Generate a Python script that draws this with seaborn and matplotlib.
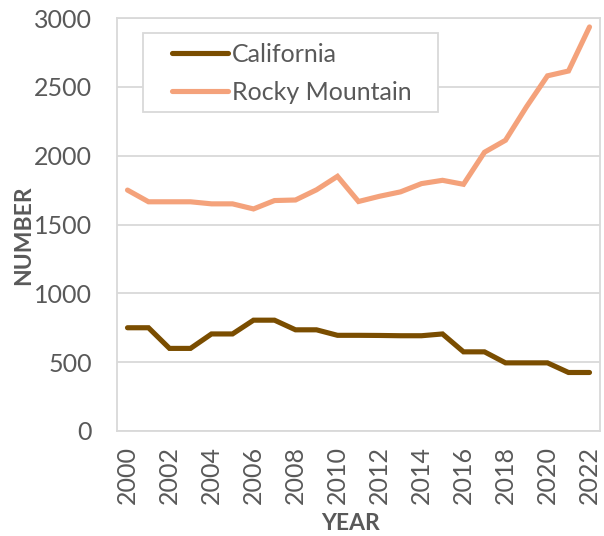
import matplotlib
matplotlib.use("Agg")
import matplotlib.pyplot as plt
from matplotlib.patches import Rectangle
import seaborn as sns
import pandas as pd

years = list(range(2000, 2023))
california = [750, 750, 600, 600, 705, 705, 805, 805, 735, 735, 695, 695,
              694, 692, 692, 705, 575, 575, 495, 495, 495, 425, 425]
rocky_mountain = [1750, 1665, 1665, 1665, 1650, 1650, 1613, 1674, 1678, 1752,
                  1850, 1667, 1705, 1737, 1797, 1821, 1792, 2025, 2112, 2355,
                  2580, 2615, 2935]
series_names = ["California", "Rocky Mountain"]
series_colors = ["#7A4D00", "#F4A27B"]
y_ticks = [0, 500, 1000, 1500, 2000, 2500, 3000]
x_ticks = list(range(2000, 2023, 2))

df = pd.DataFrame({
    "YEAR": years * 2,
    "NUMBER": california + rocky_mountain,
    "Series": [series_names[0]] * len(years) + [series_names[1]] * len(years),
})

sns.set_theme(style="white")
plt.rcParams["font.family"] = ["Lato", "DejaVu Sans"]

W, H = 604, 536
fig = plt.figure(figsize=(W / 100, H / 100), dpi=100)
ax = fig.add_axes([117 / W, 1 - 431 / H, (600 - 117) / W, (431 - 18) / H])

sns.lineplot(data=df, x="YEAR", y="NUMBER", hue="Series",
             palette=dict(zip(series_names, series_colors)),
             linewidth=3.7, ax=ax, solid_capstyle="round",
             solid_joinstyle="miter")

ax.set_xlim(1999.5, 2022.5)
ax.set_ylim(0, 3000)
ax.set_yticks(y_ticks)
ax.set_xticks(x_ticks)
ax.set_xticklabels([str(x) for x in x_ticks], rotation=90)
ax.tick_params(axis="both", length=0, labelsize=18, colors="#595959")
ax.tick_params(axis="y", pad=18)
ax.tick_params(axis="x", pad=11)
ax.grid(axis="y", color="#D9D9D9", linewidth=1.3)
ax.set_axisbelow(True)
for s in ax.spines.values():
    s.set_color("#D9D9D9")
    s.set_linewidth(1.3)

ax.set_xlabel("YEAR", fontsize=16.5, fontweight="bold", color="#595959")
ax.set_ylabel("NUMBER", fontsize=16.5, fontweight="bold", color="#595959")
ax.xaxis.label.set_verticalalignment("center")
ax.yaxis.label.set_verticalalignment("center")
ax.xaxis.set_label_coords((351 - 117) / 483, (431 - 523) / 413)
ax.yaxis.set_label_coords((24 - 117) / 483, (431 - 235) / 413)

leg = ax.legend(loc="upper left", bbox_to_anchor=((172 - 117) / 483, (431 - 43) / 413),
                fontsize=18, frameon=False,
                handlelength=2.24, handletextpad=0.16, labelspacing=0.6,
                borderpad=0, borderaxespad=0)
for t in leg.get_texts():
    t.set_color("#595959")
for l in leg.get_lines():
    l.set_linewidth(3.7)
    l.set_solid_capstyle("round")
leg.set_title(None)

frame = Rectangle(((143 - 117) / 483, (431 - 112) / 413), 295 / 483, 79 / 413,
                  transform=ax.transAxes, facecolor="white", edgecolor="#D9D9D9",
                  linewidth=1.3, zorder=4)
ax.add_patch(frame)
leg.set_zorder(5)

fig.savefig("out.png", dpi=100)
